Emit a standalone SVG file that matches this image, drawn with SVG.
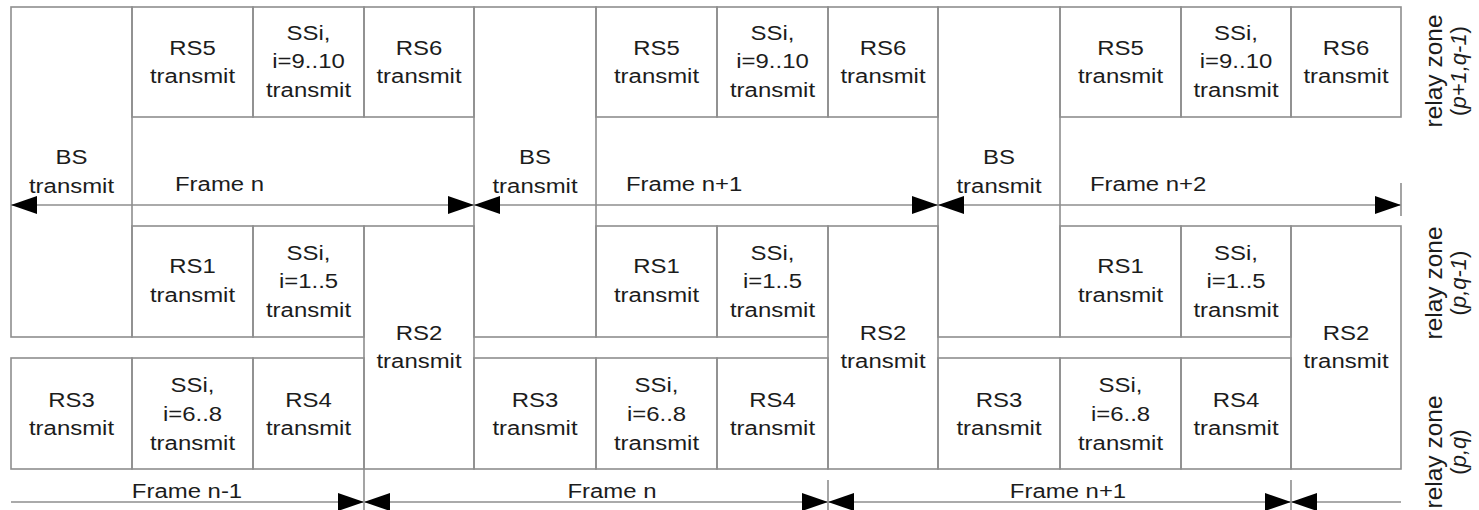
<svg xmlns="http://www.w3.org/2000/svg" width="1479" height="510" viewBox="0 0 1479 510">
  <style>
    .cell{fill:none;stroke:#8e8e8e;stroke-width:1.6}
    .ln{fill:none;stroke:#8e8e8e;stroke-width:1.6}
    .t{font-family:"Liberation Sans",Arial,Helvetica,sans-serif;font-size:21px;fill:#1c1c1c;text-anchor:middle}
    .fl{font-family:"Liberation Sans",Arial,Helvetica,sans-serif;font-size:21px;fill:#1c1c1c}
    .rz{font-family:"Liberation Sans",Arial,Helvetica,sans-serif;font-size:24.5px;fill:#1c1c1c;text-anchor:middle}
    .rz2{font-size:22px}
    .arr{fill:none;stroke:#8e8e8e;stroke-width:1.6}
    .i{font-style:italic}
  </style>
  <defs>
    <marker id="head" markerUnits="userSpaceOnUse" markerWidth="26" markerHeight="18" refX="26" refY="9" orient="auto-start-reverse" viewBox="0 0 26 18">
      <path d="M0,0 L26,9 L0,18 Z" fill="#000"/>
    </marker>
  </defs>
  <rect width="1479" height="510" fill="#fff"/>

  <!-- ===== Frame block 1 (x 11..474) ===== -->
  <g id="f1-bs"><rect class="cell" x="11" y="7" width="121" height="330"/>
    <text class="t" transform="translate(71.5 0) scale(1.14 1)"><tspan x="0" y="164">BS</tspan><tspan x="0" y="193">transmit</tspan></text></g>
  <g id="f1-rs5"><rect class="cell" x="132" y="7" width="121" height="110"/>
    <text class="t" transform="translate(192.5 0) scale(1.14 1)"><tspan x="0" y="55.5">RS5</tspan><tspan x="0" y="83">transmit</tspan></text></g>
  <g id="f1-ss910"><rect class="cell" x="253" y="7" width="111" height="110"/>
    <text class="t" transform="translate(308.5 0) scale(1.14 1)"><tspan x="0" y="40">SSi,</tspan><tspan x="0" y="68.5">i=9..10</tspan><tspan x="0" y="97">transmit</tspan></text></g>
  <g id="f1-rs6"><rect class="cell" x="364" y="7" width="110" height="110"/>
    <text class="t" transform="translate(419 0) scale(1.14 1)"><tspan x="0" y="55.5">RS6</tspan><tspan x="0" y="83">transmit</tspan></text></g>
  <g id="f1-rs1"><rect class="cell" x="132" y="226" width="121" height="111"/>
    <text class="t" transform="translate(192.5 0) scale(1.14 1)"><tspan x="0" y="273">RS1</tspan><tspan x="0" y="302">transmit</tspan></text></g>
  <g id="f1-ss15"><rect class="cell" x="253" y="226" width="111" height="111"/>
    <text class="t" transform="translate(308.5 0) scale(1.14 1)"><tspan x="0" y="260">SSi,</tspan><tspan x="0" y="288.5">i=1..5</tspan><tspan x="0" y="317">transmit</tspan></text></g>
  <g id="f1-rs2"><rect class="cell" x="364" y="226" width="110" height="243"/>
    <text class="t" transform="translate(419 0) scale(1.14 1)"><tspan x="0" y="340">RS2</tspan><tspan x="0" y="368">transmit</tspan></text></g>
  <g id="f1-rs3"><rect class="cell" x="11" y="358" width="121" height="111"/>
    <text class="t" transform="translate(71.5 0) scale(1.14 1)"><tspan x="0" y="407">RS3</tspan><tspan x="0" y="435">transmit</tspan></text></g>
  <g id="f1-ss68"><rect class="cell" x="132" y="358" width="121" height="111"/>
    <text class="t" transform="translate(192.5 0) scale(1.14 1)"><tspan x="0" y="392">SSi,</tspan><tspan x="0" y="421">i=6..8</tspan><tspan x="0" y="450">transmit</tspan></text></g>
  <g id="f1-rs4"><rect class="cell" x="253" y="358" width="111" height="111"/>
    <text class="t" transform="translate(308.5 0) scale(1.14 1)"><tspan x="0" y="407">RS4</tspan><tspan x="0" y="435">transmit</tspan></text></g>

  <!-- ===== Frame block 2 (x 474..938) ===== -->
  <g id="f2-bs"><rect class="cell" x="474" y="7" width="122" height="330"/>
    <text class="t" transform="translate(535 0) scale(1.14 1)"><tspan x="0" y="164">BS</tspan><tspan x="0" y="193">transmit</tspan></text></g>
  <g id="f2-rs5"><rect class="cell" x="596" y="7" width="121" height="110"/>
    <text class="t" transform="translate(656.5 0) scale(1.14 1)"><tspan x="0" y="55.5">RS5</tspan><tspan x="0" y="83">transmit</tspan></text></g>
  <g id="f2-ss910"><rect class="cell" x="717" y="7" width="111" height="110"/>
    <text class="t" transform="translate(772.5 0) scale(1.14 1)"><tspan x="0" y="40">SSi,</tspan><tspan x="0" y="68.5">i=9..10</tspan><tspan x="0" y="97">transmit</tspan></text></g>
  <g id="f2-rs6"><rect class="cell" x="828" y="7" width="110" height="110"/>
    <text class="t" transform="translate(883 0) scale(1.14 1)"><tspan x="0" y="55.5">RS6</tspan><tspan x="0" y="83">transmit</tspan></text></g>
  <g id="f2-rs1"><rect class="cell" x="596" y="226" width="121" height="111"/>
    <text class="t" transform="translate(656.5 0) scale(1.14 1)"><tspan x="0" y="273">RS1</tspan><tspan x="0" y="302">transmit</tspan></text></g>
  <g id="f2-ss15"><rect class="cell" x="717" y="226" width="111" height="111"/>
    <text class="t" transform="translate(772.5 0) scale(1.14 1)"><tspan x="0" y="260">SSi,</tspan><tspan x="0" y="288.5">i=1..5</tspan><tspan x="0" y="317">transmit</tspan></text></g>
  <g id="f2-rs2"><rect class="cell" x="828" y="226" width="110" height="243"/>
    <text class="t" transform="translate(883 0) scale(1.14 1)"><tspan x="0" y="340">RS2</tspan><tspan x="0" y="368">transmit</tspan></text></g>
  <g id="f2-rs3"><rect class="cell" x="474" y="358" width="122" height="111"/>
    <text class="t" transform="translate(535 0) scale(1.14 1)"><tspan x="0" y="407">RS3</tspan><tspan x="0" y="435">transmit</tspan></text></g>
  <g id="f2-ss68"><rect class="cell" x="596" y="358" width="121" height="111"/>
    <text class="t" transform="translate(656.5 0) scale(1.14 1)"><tspan x="0" y="392">SSi,</tspan><tspan x="0" y="421">i=6..8</tspan><tspan x="0" y="450">transmit</tspan></text></g>
  <g id="f2-rs4"><rect class="cell" x="717" y="358" width="111" height="111"/>
    <text class="t" transform="translate(772.5 0) scale(1.14 1)"><tspan x="0" y="407">RS4</tspan><tspan x="0" y="435">transmit</tspan></text></g>

  <!-- ===== Frame block 3 (x 938..1401) ===== -->
  <g id="f3-bs"><rect class="cell" x="938" y="7" width="122" height="330"/>
    <text class="t" transform="translate(999 0) scale(1.14 1)"><tspan x="0" y="164">BS</tspan><tspan x="0" y="193">transmit</tspan></text></g>
  <g id="f3-rs5"><rect class="cell" x="1060" y="7" width="121" height="110"/>
    <text class="t" transform="translate(1120.5 0) scale(1.14 1)"><tspan x="0" y="55.5">RS5</tspan><tspan x="0" y="83">transmit</tspan></text></g>
  <g id="f3-ss910"><rect class="cell" x="1181" y="7" width="110" height="110"/>
    <text class="t" transform="translate(1236 0) scale(1.14 1)"><tspan x="0" y="40">SSi,</tspan><tspan x="0" y="68.5">i=9..10</tspan><tspan x="0" y="97">transmit</tspan></text></g>
  <g id="f3-rs6"><rect class="cell" x="1291" y="7" width="110" height="110"/>
    <text class="t" transform="translate(1346 0) scale(1.14 1)"><tspan x="0" y="55.5">RS6</tspan><tspan x="0" y="83">transmit</tspan></text></g>
  <g id="f3-rs1"><rect class="cell" x="1060" y="226" width="121" height="111"/>
    <text class="t" transform="translate(1120.5 0) scale(1.14 1)"><tspan x="0" y="273">RS1</tspan><tspan x="0" y="302">transmit</tspan></text></g>
  <g id="f3-ss15"><rect class="cell" x="1181" y="226" width="110" height="111"/>
    <text class="t" transform="translate(1236 0) scale(1.14 1)"><tspan x="0" y="260">SSi,</tspan><tspan x="0" y="288.5">i=1..5</tspan><tspan x="0" y="317">transmit</tspan></text></g>
  <g id="f3-rs2"><rect class="cell" x="1291" y="226" width="110" height="243"/>
    <text class="t" transform="translate(1346 0) scale(1.14 1)"><tspan x="0" y="340">RS2</tspan><tspan x="0" y="368">transmit</tspan></text></g>
  <g id="f3-rs3"><rect class="cell" x="938" y="358" width="122" height="111"/>
    <text class="t" transform="translate(999 0) scale(1.14 1)"><tspan x="0" y="407">RS3</tspan><tspan x="0" y="435">transmit</tspan></text></g>
  <g id="f3-ss68"><rect class="cell" x="1060" y="358" width="121" height="111"/>
    <text class="t" transform="translate(1120.5 0) scale(1.14 1)"><tspan x="0" y="392">SSi,</tspan><tspan x="0" y="421">i=6..8</tspan><tspan x="0" y="450">transmit</tspan></text></g>
  <g id="f3-rs4"><rect class="cell" x="1181" y="358" width="110" height="111"/>
    <text class="t" transform="translate(1236 0) scale(1.14 1)"><tspan x="0" y="407">RS4</tspan><tspan x="0" y="435">transmit</tspan></text></g>

  <!-- frame-length dimension arrows and tick marks -->
  <g id="connectors">
    <line class="arr" x1="11" y1="205" x2="474" y2="205" marker-start="url(#head)" marker-end="url(#head)"/>
    <line class="arr" x1="474" y1="205" x2="938" y2="205" marker-start="url(#head)" marker-end="url(#head)"/>
    <line class="arr" x1="938" y1="205" x2="1401" y2="205" marker-start="url(#head)" marker-end="url(#head)"/>
    <line class="ln" x1="1401" y1="183" x2="1401" y2="216"/>

    <line class="arr" x1="11" y1="502" x2="364" y2="502" marker-end="url(#head)"/>
    <line class="arr" x1="364" y1="502" x2="828" y2="502" marker-start="url(#head)" marker-end="url(#head)"/>
    <line class="arr" x1="828" y1="502" x2="1291" y2="502" marker-start="url(#head)" marker-end="url(#head)"/>
    <line class="arr" x1="1291" y1="502" x2="1401" y2="502" marker-start="url(#head)"/>
    <line class="ln" x1="364" y1="469" x2="364" y2="510"/>
    <line class="ln" x1="828" y1="480" x2="828" y2="510"/>
    <line class="ln" x1="1291" y1="480" x2="1291" y2="510"/>
  </g>

  <!-- frame labels -->
  <g id="frame-labels">
    <text class="fl" transform="translate(175 191) scale(1.14 1)">Frame n</text>
    <text class="fl" transform="translate(626 191) scale(1.14 1)">Frame n+1</text>
    <text class="fl" transform="translate(1090 191) scale(1.14 1)">Frame n+2</text>
    <text class="t" transform="translate(187 498) scale(1.14 1)">Frame n-1</text>
    <text class="t" transform="translate(612 498) scale(1.14 1)">Frame n</text>
    <text class="t" transform="translate(1068 498) scale(1.14 1)">Frame n+1</text>
  </g>

  <!-- relay zone captions -->
  <g id="zone-labels">
    <text class="rz" transform="translate(1442 71) rotate(-90)"><tspan x="0" y="0">relay zone</tspan><tspan class="rz2" x="0" y="24">(<tspan class="i">p+1,q-1</tspan>)</tspan></text>
    <text class="rz" transform="translate(1442 283) rotate(-90)"><tspan x="0" y="0">relay zone</tspan><tspan class="rz2" x="0" y="24">(<tspan class="i">p,q-1</tspan>)</tspan></text>
    <text class="rz" transform="translate(1442 452) rotate(-90)"><tspan x="0" y="0">relay zone</tspan><tspan class="rz2" x="0" y="24">(<tspan class="i">p,q</tspan>)</tspan></text>
  </g>
</svg>
